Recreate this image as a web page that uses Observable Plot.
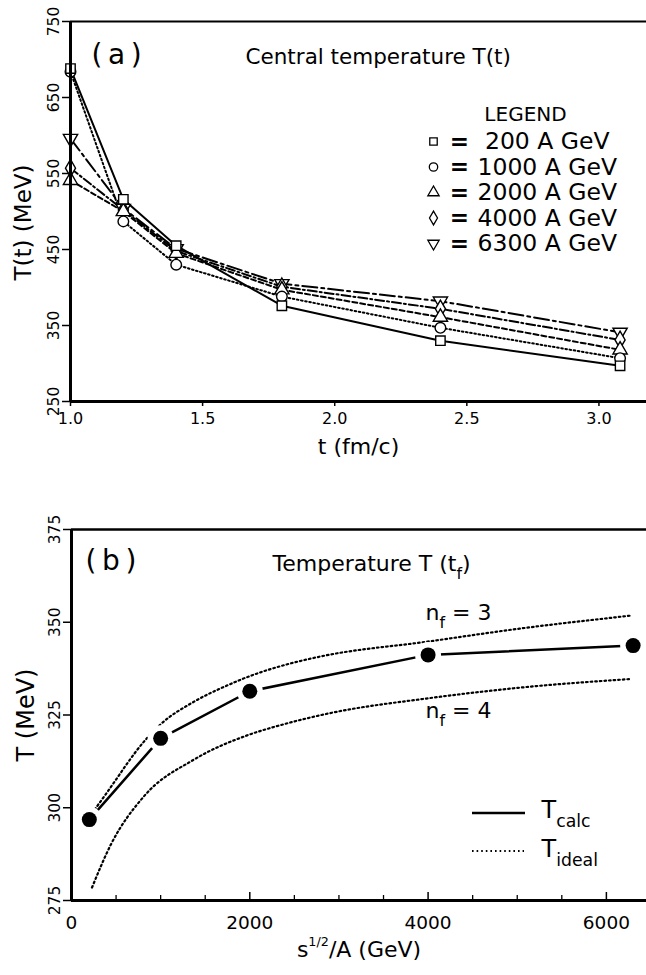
<!DOCTYPE html>
<html><head><meta charset="utf-8">
<script src="https://cdn.jsdelivr.net/npm/d3@7"></script>
<script src="https://cdn.jsdelivr.net/npm/@observablehq/plot@0.6"></script>
<style>
body{margin:0;background:#fff;}
#chart{width:646px;}
#chart svg{display:block;}
</style></head><body><div id="chart"></div>
<script>
// ---------- Panel (a) data ----------
const timesA = [1.0, 1.2, 1.4, 1.8, 2.4, 3.08];
const energyLabels = ["200", "1000", "2000", "4000", "6300"];
const temp200  = [688, 516, 455, 376, 330, 297];
const temp1000 = [684, 487, 430, 388, 347, 307];
const temp2000 = [541, 500, 445, 397, 361, 318];
const temp4000 = [557, 502, 448, 401, 372, 331];
const temp6300 = [596, 504, 451, 405, 382, 341];
const xTicksA = [1.0, 1.5, 2.0, 2.5, 3.0];
const yTicksA = [250, 350, 450, 550, 650, 750];
const xDomainA = [1.0, 3.18];
const yDomainA = [250, 750];

// ---------- Panel (b) data ----------
const energiesB = [200, 1000, 2000, 4000, 6300];
const tempCalc = [296.8, 318.7, 331.4, 341.2, 343.7];
const energiesIdeal3 = [200, 380, 830, 1000, 1375, 1750, 2120, 2350, 2800, 4000, 5000, 6280];
const tempIdeal3     = [297.5, 303.5, 318.3, 322.5, 328.6, 333.0, 336.5, 338.2, 340.8, 344.8, 348.2, 351.8];
const energiesIdeal4 = [230, 440, 810, 1375, 1970, 2350, 2900, 4000, 5000, 6270];
const tempIdeal4     = [278.5, 290.0, 303.0, 313.0, 319.5, 322.3, 325.5, 329.5, 332.3, 334.7];
const xTicksB = [0, 2000, 4000, 6000];
const xMinorB = [500, 1000, 1500, 2500, 3000, 3500, 4500, 5000, 5500];
const yTicksB = [275, 300, 325, 350, 375];
const xDomainB = [0, 6450];
const yDomainB = [275, 375];

// ---------- styles ----------
const FONT = "DejaVu Sans";
const triangleDown = {
  draw(ctx, size) {
    const y = -Math.sqrt(size / (Math.sqrt(3) * 3));
    ctx.moveTo(0, -y * 2);
    ctx.lineTo(-Math.sqrt(3) * y, y);
    ctx.lineTo(Math.sqrt(3) * y, y);
    ctx.closePath();
  }
};
const symbolsA = ["square", "circle", "triangle", "diamond", triangleDown];
const dashesA = [undefined, "1.6,2.6", "5,3", "9,3,2,3", "15,4,3,4"];
const DOTTED = "1.6,3";

const seriesTemps = [temp200, temp1000, temp2000, temp4000, temp6300];
const rowsA = energyLabels.flatMap((e, i) => timesA.map((t, j) => ({energy: e, idx: i, t, T: seriesTemps[i][j]})));

const W = 646;
const mA = {top: 21, right: 0, bottom: 59, left: 70};
const HA = 460;

const legendDy = i => 120 + i * 25.5;
const txt = (s, o) => Plot.text([s], {text: d => d, lineAnchor: "middle", ...o});

const plotA = Plot.plot({
  width: W, height: HA,
  marginTop: mA.top, marginRight: mA.right, marginBottom: mA.bottom, marginLeft: mA.left,
  style: {fontFamily: FONT, background: "white", color: "black"},
  x: {domain: xDomainA, axis: null},
  y: {domain: yDomainA, axis: null},
  marks: [
    ...energyLabels.map((e, i) => Plot.line(rowsA.filter(d => d.idx === i), {
      x: "t", y: "T", stroke: "black", strokeWidth: 2, strokeDasharray: dashesA[i]
    })),
    ...energyLabels.map((e, i) => i).reverse().map(i => Plot.dot(rowsA.filter(d => d.idx === i), {
      x: "t", y: "T", symbol: symbolsA[i], r: 5.3, fill: "white", stroke: "black", strokeWidth: 1.4
    })),
    Plot.ruleY([yDomainA[1]], {strokeWidth: 2}),
    Plot.ruleY([yDomainA[0]], {strokeWidth: 3}),
    Plot.ruleX([xDomainA[0]], {strokeWidth: 3}),
    Plot.axisY(yTicksA, {tickSize: 8, tickRotate: -90, tickPadding: 4, fontSize: 15.5, strokeWidth: 1.5, label: null}),
    Plot.axisX(xTicksA, {tickSize: 5, tickPadding: 6, fontSize: 16, strokeWidth: 1.5, tickFormat: d3.format(".1f"), label: null}),
    txt("T(t) (MeV)", {frameAnchor: "left", rotate: -90, dx: -47, dy: 11, fontSize: 23, textAnchor: "middle"}),
    txt("t (fm/c)", {frameAnchor: "bottom", dy: 45, fontSize: 22, textAnchor: "middle"}),
    txt("(\u2009a\u2009)", {frameAnchor: "top-left", dx: 21, dy: 34, fontSize: 28, textAnchor: "start"}),
    txt("Central temperature T(t)", {frameAnchor: "top-left", dx: 175, dy: 36, fontSize: 21.5, textAnchor: "start"}),
    txt("LEGEND", {frameAnchor: "top-left", dx: 455, dy: 93, fontSize: 20, textAnchor: "middle"}),
    ...energyLabels.map((e, i) => Plot.dot([e], {frameAnchor: "top-left", dx: 363, dy: legendDy(i), symbol: symbolsA[i], r: 4.2, fill: "white", stroke: "black", strokeWidth: 1.3})),
    ...energyLabels.map((e, i) => Plot.text([e], {text: () => "=", lineAnchor: "middle", frameAnchor: "top-left", dx: 389, dy: legendDy(i), fontSize: 23, fontWeight: "bold", textAnchor: "middle"})),
    ...energyLabels.map((e, i) => Plot.text([e], {text: d => (d.length < 4 ? "\u00a0" : "") + d + "\u00a0A\u00a0GeV", lineAnchor: "middle", frameAnchor: "top-left", dx: 407, dy: legendDy(i), fontSize: 23.5, textAnchor: "start"}))
  ]
});

// ---------- Panel (b) ----------
const rowsCalc = energiesB.map((s, i) => ({s, T: tempCalc[i]}));
const rowsIdeal3 = energiesIdeal3.map((s, i) => ({s, T: tempIdeal3[i]}));
const rowsIdeal4 = energiesIdeal4.map((s, i) => ({s, T: tempIdeal4[i]}));

const mB = {top: 69, right: 0, bottom: 75, left: 71};
const HB = 515;
const frameHB = HB - mB.top - mB.bottom;

const plotB = Plot.plot({
  width: W, height: HB,
  marginTop: mB.top, marginRight: mB.right, marginBottom: mB.bottom, marginLeft: mB.left,
  style: {fontFamily: FONT, background: "white", color: "black"},
  x: {domain: xDomainB, axis: null},
  y: {domain: yDomainB, axis: null},
  marks: [
    Plot.line(rowsIdeal3, {x: "s", y: "T", curve: "monotone-x", stroke: "black", strokeWidth: 2.2, strokeDasharray: DOTTED}),
    Plot.line(rowsIdeal4, {x: "s", y: "T", curve: "monotone-x", stroke: "black", strokeWidth: 2.2, strokeDasharray: DOTTED}),
    Plot.line(rowsCalc, {x: "s", y: "T", stroke: "black", strokeWidth: 2.5}),
    Plot.dot(rowsCalc, {x: "s", y: "T", r: 13, fill: "white"}),
    Plot.dot(rowsCalc, {x: "s", y: "T", r: 7.5, fill: "black"}),
    Plot.ruleY([yDomainB[1]], {strokeWidth: 2.5}),
    Plot.ruleY([yDomainB[0]], {strokeWidth: 3}),
    Plot.ruleX([xDomainB[0]], {strokeWidth: 3}),
    Plot.tickX(xTicksB, {x: d => d, insetTop: frameHB - 8, strokeWidth: 1.5}),
    Plot.tickX(xMinorB, {x: d => d, insetTop: frameHB - 5, strokeWidth: 1.3}),
    Plot.axisY(yTicksB, {tickSize: 8, tickRotate: -90, tickPadding: 4, fontSize: 15.5, strokeWidth: 1.5, label: null}),
    Plot.axisX(xTicksB, {tickSize: 0, tickPadding: 15, fontSize: 18.5, label: null, tickFormat: d3.format("d")}),
    txt("T (MeV)", {frameAnchor: "left", rotate: -90, dx: -45, fontSize: 24, textAnchor: "middle"}),
    txt("s^{1/2}/A (GeV)", {frameAnchor: "bottom", dy: 49, fontSize: 22, textAnchor: "middle"}),
    txt("(\u2009b\u2009)", {frameAnchor: "top-left", dx: 14, dy: 32, fontSize: 28, textAnchor: "start"}),
    txt("Temperature T (t_{f})", {frameAnchor: "top-left", dx: 201, dy: 34, fontSize: 22, textAnchor: "start"}),
    txt("n_{f}\u00a0=\u00a03", {frameAnchor: "top-left", dx: 354, dy: 83, fontSize: 22, textAnchor: "start"}),
    txt("n_{f}\u00a0=\u00a04", {frameAnchor: "top-left", dx: 354, dy: 181, fontSize: 22, textAnchor: "start"}),
    txt("T_{calc}", {frameAnchor: "top-left", dx: 470, dy: 281, fontSize: 24, textAnchor: "start"}),
    txt("T_{ideal}", {frameAnchor: "top-left", dx: 470, dy: 320, fontSize: 24, textAnchor: "start"})
  ]
});

// legend keys for panel (b)
const gB = d3.select(plotB).append("g").attr("stroke", "black");
gB.append("line").attr("x1", mB.left + 401).attr("x2", mB.left + 454)
  .attr("y1", mB.top + 284).attr("y2", mB.top + 284).attr("stroke-width", 2.3);
gB.append("line").attr("x1", mB.left + 401).attr("x2", mB.left + 453)
  .attr("y1", mB.top + 322).attr("y2", mB.top + 322).attr("stroke-width", 2).attr("stroke-dasharray", DOTTED);

// rich text: _{sub} and ^{sup}
function richify(svg) {
  const ns = "http://www.w3.org/2000/svg";
  svg.querySelectorAll("text, tspan").forEach(el => {
    if (el.children.length) return;
    const s = el.textContent;
    if (!/[_^]\{/.test(s)) return;
    el.textContent = "";
    const re = /([_^])\{([^}]*)\}/g;
    let last = 0, m;
    const addPlain = (str, dy) => {
      const t = document.createElementNS(ns, "tspan");
      if (dy) t.setAttribute("dy", dy);
      t.textContent = str;
      el.appendChild(t);
    };
    let pendingDy = null;
    while ((m = re.exec(s))) {
      if (m.index > last) { addPlain(s.slice(last, m.index), pendingDy); pendingDy = null; }
      const t = document.createElementNS(ns, "tspan");
      const sub = m[1] === "_";
      const scale = sub ? 0.72 : 0.58;
      const shift = sub ? 0.38 : -0.48;
      t.setAttribute("font-size", (scale * 100) + "%");
      t.setAttribute("dy", (shift / scale) + "em");
      t.textContent = m[2];
      el.appendChild(t);
      pendingDy = (-shift) + "em";
      last = re.lastIndex;
    }
    if (last < s.length) addPlain(s.slice(last), pendingDy);
  });
}
richify(plotA);
richify(plotB);

document.getElementById("chart").append(plotA, plotB);
</script>
</body></html>
